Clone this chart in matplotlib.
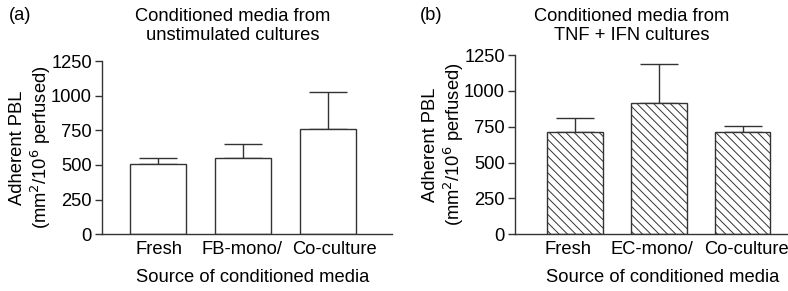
import matplotlib
matplotlib.use("Agg")
import matplotlib.pyplot as plt
import matplotlib.transforms as mtransforms

plt.rcParams['font.family'] = ['Liberation Sans', 'DejaVu Sans']
plt.rcParams['hatch.linewidth'] = 0.7
plt.rcParams['hatch.color'] = '#333333'

categories_a = ["Fresh", "FB-mono/", "Co-culture"]
values_a = [510, 549, 761]
errors_a = [43, 103, 268]

categories_b = ["Fresh", "EC-mono/", "Co-culture"]
values_b = [711, 917, 715]
errors_b = [102, 270, 40]

yticks = [0, 250, 500, 750, 1000, 1250]

W, H = 788, 291
fig = plt.figure(figsize=(W / 100, H / 100), dpi=100)

def fx(px):
    return px / W

def fy(py):
    return 1 - py / H

ec = '#333333'
fs = 13.2

def panel(rect, cats, vals, errs, xlim, hatch, title, tag, tag_xy, title_xy, ylab_x,
          xlab_xy, label_shift):
    ax = fig.add_axes(rect)
    x = list(range(len(cats)))
    ax.bar(x, vals, width=0.66, color='white', edgecolor=ec, linewidth=1.0,
           hatch=hatch, zorder=2)
    ax.errorbar(x, vals, yerr=[[0] * len(errs), errs], fmt='none', ecolor=ec,
                elinewidth=1.0, capsize=13.5, capthick=1.0, zorder=1)
    ax.set_xlim(*xlim)
    ax.set_ylim(0, 1250)
    ax.set_yticks(yticks)
    ax.set_xticks(x)
    ax.set_xticklabels(cats, fontsize=fs)
    ax.tick_params(axis='x', length=0, pad=5)
    ax.tick_params(axis='y', length=5, width=1.0, color=ec, labelsize=fs, pad=2)
    for lbl, dx in zip(ax.get_xticklabels(), label_shift):
        lbl.set_transform(lbl.get_transform() +
                          mtransforms.ScaledTranslation(dx / 100, 0, fig.dpi_scale_trans))
    for s in ['top', 'right']:
        ax.spines[s].set_visible(False)
    for s in ['left', 'bottom']:
        ax.spines[s].set_color(ec)
        ax.spines[s].set_linewidth(1.0)
    fig.text(fx(tag_xy[0]), fy(tag_xy[1]), tag, fontsize=fs, ha='left', va='center')
    fig.text(fx(title_xy[0]), fy(title_xy[1]), title, fontsize=fs, ha='center',
             va='center', linespacing=1.2)
    fig.text(fx(ylab_x), rect[1] + rect[3] / 2,
             "Adherent PBL\n(mm$^2$/10$^6$ perfused)", fontsize=fs, rotation=90,
             ha='center', va='center', linespacing=1.2)
    fig.text(fx(xlab_xy[0]), fy(xlab_xy[1]), "Source of conditioned media",
             fontsize=fs, ha='center', va='center')
    return ax

# panel a
la, ra, ba, ta = 101.7, 392, 234.3, 61
panel([fx(la), fy(ba), fx(ra - la), (ba - ta) / H], categories_a, values_a, errors_a,
      (-0.665, 2.76), None,
      "Conditioned media from\nunstimulated cultures", "(a)", (9, 15), (233, 26),
      31, (253, 277), (1, -1, 7))

# panel b
lb, rb, bb, tb = 514.7, 788, 234.3, 55
panel([fx(lb), fy(bb), fx(rb - lb), (bb - tb) / H], categories_b, values_b, errors_b,
      (-0.72, 2.54), '\\\\\\\\',
      "Conditioned media from\nTNF + IFN cultures", "(b)", (420, 15), (632, 26),
      444, (663, 277), (-7, -7, 4))

fig.savefig("out.png", dpi=100)
